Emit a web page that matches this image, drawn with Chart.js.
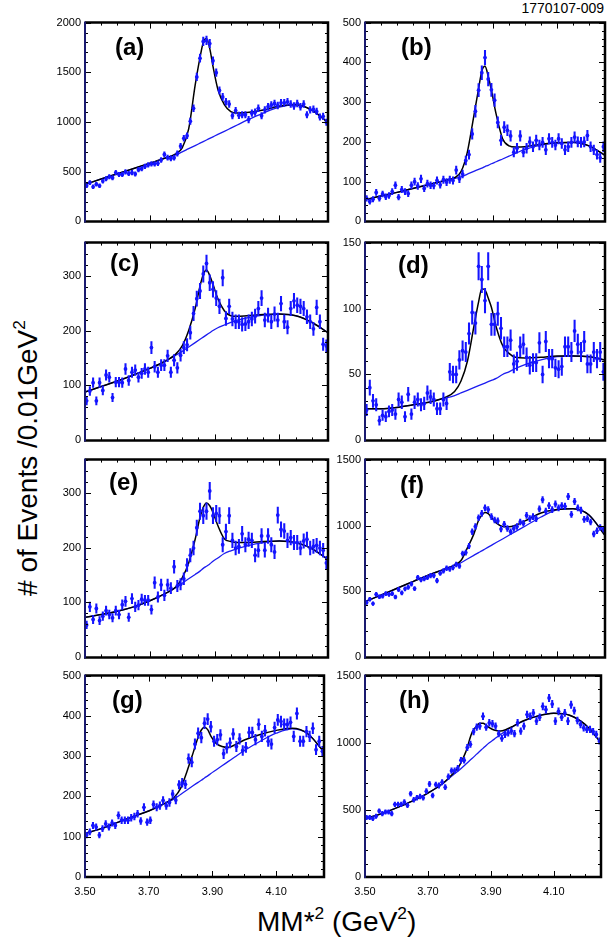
<!DOCTYPE html>
<html>
<head>
<meta charset="utf-8">
<title>MM*2 spectra</title>
<script src="https://cdn.jsdelivr.net/npm/chart.js@4.4.0/dist/chart.umd.min.js"></script>
<style>
  html, body { margin: 0; padding: 0; background: #fff; }
  body { width: 609px; height: 949px; position: relative; overflow: hidden;
         font-family: "Liberation Sans", Arial, Helvetica, sans-serif; color: #000; }
  canvas { position: absolute; }
  .tag { position: absolute; font-weight: bold; font-size: 24px; line-height: 24px; white-space: nowrap; }
  #code { position: absolute; right: 5px; top: 1px; font-size: 14px; line-height: 14px; }
  #ytitle { position: absolute; width: 420px; left: -182px; top: 442px; height: 32px;
            text-align: center; font-size: 28px; line-height: 32px; white-space: nowrap;
            transform: rotate(-90deg); }
  #xtitle { position: absolute; left: 257px; top: 906px; font-size: 28px; line-height: 32px; white-space: nowrap; }
  sup { font-size: 62%; line-height: 0; position: relative; top: -2px; }
</style>
</head>
<body>
<div id="code">1770107-009</div>
<div id="ytitle"># of Events /0.01GeV<sup>2</sup></div>
<div id="xtitle">MM*<sup>2</sup> (GeV<sup>2</sup>)</div>

<script>
// counts per 0.01 GeV^2 bin, bins from 3.50 to 4.25
const dataA = [358,390,348,374,358,406,429,449,439,491,
  472,472,498,481,491,478,520,530,553,569,
  579,579,585,618,673,641,634,641,683,758,
  836,862,1008,1138,1453,1642,1811,1821,1789,1616,
  1496,1317,1252,1203,1180,1063,1115,1067,1073,1073,
  1024,1089,1099,1138,1063,1122,1154,1171,1187,1167,
  1193,1193,1203,1180,1161,1187,1154,1180,1073,1122,
  1128,1106,1050,1057,998];
const dataB = [58,50,56,73,58,69,62,65,75,91,
  61,80,75,70,91,100,89,107,83,95,
  91,90,103,92,105,99,105,103,129,107,
  119,153,168,220,277,330,374,412,358,331,
  305,249,204,237,229,215,174,184,215,174,
  184,200,188,204,192,199,180,208,199,192,
  208,196,180,188,199,212,200,199,200,216,
  188,180,168,160,188];
const dataC = [72,90,105,72,105,91,119,115,78,106,
  106,105,130,109,124,128,115,122,130,124,
  169,134,124,137,137,154,124,146,132,155,
  169,174,196,231,258,272,303,322,287,275,
  259,244,296,222,244,221,216,216,211,212,
  216,221,226,240,259,219,228,216,230,219,
  249,216,206,240,254,246,244,240,225,216,
  203,242,216,175,172];
const dataD = [23,40,30,27,15,19,18,22,23,20,
  31,29,18,35,20,29,31,27,28,36,
  33,31,24,24,31,28,52,50,50,61,
  68,67,81,97,89,132,122,106,132,88,
  88,96,85,71,71,76,58,60,71,73,
  63,57,59,59,74,50,75,62,62,55,
  54,56,71,71,67,83,73,67,75,58,
  58,67,62,67,52];
const dataE = [59,92,69,89,67,75,85,78,72,85,
  78,96,102,73,107,92,95,106,104,104,
  87,136,110,132,113,132,126,165,130,133,
  143,168,186,199,236,266,258,266,303,258,
  262,258,205,229,258,213,199,202,225,205,
  215,213,186,195,221,195,221,205,192,259,
  233,230,213,218,209,209,199,212,215,199,
  202,204,199,195,172];
const dataF = [416,441,408,478,460,465,483,478,483,458,
  515,490,520,532,557,522,606,589,597,606,
  621,621,582,639,656,676,671,681,705,693,
  787,795,844,953,993,1059,1092,1134,1121,1067,
  1042,1035,973,1010,978,953,978,993,1027,1017,
  1077,1052,1067,1052,1126,1196,1109,1151,1121,1163,
  1134,1151,1146,1220,1084,1183,1134,1116,1047,1052,
  1027,936,960,985,973];
const dataG = [104,112,128,124,104,120,132,124,134,128,
  153,141,141,141,147,150,157,139,173,136,
  141,180,173,177,190,177,185,206,191,229,
  234,230,294,285,330,357,346,382,392,373,
  337,341,353,306,320,333,355,324,343,314,
  322,359,359,341,379,349,363,337,330,371,
  390,386,379,379,384,349,406,337,337,361,
  349,369,316,337,312];
const dataH = [443,443,435,452,492,472,484,484,472,541,
  541,541,558,534,620,575,590,600,590,639,
  693,607,688,681,706,669,747,792,792,811,
  870,870,964,988,1082,1116,1124,1197,1116,1148,
  1141,1124,1067,1033,1062,1074,1087,1067,1148,1087,
  1124,1210,1197,1222,1161,1190,1271,1247,1333,1288,
  1161,1234,1190,1222,1161,1283,1239,1166,1136,1111,
  1099,1099,1082,1062,1013];

// fit curves (background in blue, total in black), sampled on curveX
const curveX = [3.50,3.55,3.60,3.65,3.70,3.75,3.78,3.80,3.82,3.84,3.855,3.865,3.875,
  3.885,3.895,3.91,3.93,3.95,3.97,4.00,4.05,4.10,4.15,4.20,4.25];
const bgA  = [372,427,480,532,585,638,670,700,732,763,787,803,819,835,851,875,906,938,970,1018,1090,1150,1172,1120,995];
const fitA = [372,427,480,532,585,640,680,740,930,1370,1650,1800,1840,1740,1560,1330,1175,1105,1090,1095,1120,1160,1174,1120,995];
const bgB  = [54,64,73,83,93,103,108,112,119,126,131,134,138,141,145,150,157,164,171,181,192,197,198,190,166];
const fitB = [54,64,73,83,93,103,110,125,175,265,334,378,390,365,330,269,208,190,187,188,194,198,199,190,166];
const bgC  = [88,98,108,119,131,145,155,162,170,178,184,188,192,196,200,205,210,215,219,223,228,230,227,215,196];
const fitC = [88,98,108,119,131,145,157,172,200,240,281,302,310,300,284,258,236,227,226,227,229,230,227,215,196];
const bgD  = [24,24,25,27,29,32,34,36,38,40,41.5,42.5,43.5,44.5,45.5,47,50,52,54.5,57.5,61,63.5,64,63.5,61];
const fitD = [24,24,25,27,29,32.5,37,45,60,86,105,115,114,108,101,86,72,66,63,62.5,63,64,64,63.5,61];
const bgE  = [73,78,84,92,103,117,127,135,143,151,157,162,166,170,175,181,189,194,198,203,209,212,209,198,178];
const fitE = [73,78,84,92,103,117,128,145,172,215,255,273,281,276,264,240,216,211,209,209,211,212,209,198,178];
const bgF  = [423,472,524,575,626,670,697,718,746,774,795,808,822,836,850,871,898,926,954,995,1065,1118,1128,1080,925];
const fitF = [423,472,524,575,626,671,702,735,830,935,1040,1078,1098,1090,1062,1020,993,990,1002,1035,1095,1122,1128,1080,925];
const bgG  = [108,120,135,150,164,182,194,205,216,227,235,240,246,251,257,265,276,287,298,314,337,357,368,355,310];
const fitG = [108,120,135,150,164,183,198,220,262,310,347,365,372,366,350,333,324,322,328,340,354,364,369,355,310];
const bgH  = [435,470,515,565,625,700,760,797,840,882,915,937,958,980,1000,1025,1060,1093,1120,1157,1200,1220,1205,1135,1000];
const fitH = [435,470,515,565,625,702,770,830,930,1075,1125,1145,1145,1130,1112,1095,1087,1100,1122,1160,1200,1220,1205,1135,1000];

const binCentres = dataA.map((_, i) => +(3.505 + 0.01 * i).toFixed(3));
const xTickLabels = ['3.50', '3.70', '3.90', '4.10'];

const panels = [
  { tag: '(a)', counts: dataA, bg: bgA, fit: fitA, yMax: 2000, yMajor: 500, yMinor: 100, errK: 1.0 },
  { tag: '(b)', counts: dataB, bg: bgB, fit: fitB, yMax: 500,  yMajor: 100, yMinor: 20,  errK: 0.9 },
  { tag: '(c)', counts: dataC, bg: bgC, fit: fitC, yMax: 360,  yMajor: 100, yMinor: 20,  errK: 0.85 },
  { tag: '(d)', counts: dataD, bg: bgD, fit: fitD, yMax: 150,  yMajor: 50,  yMinor: 10,  errK: 0.9 },
  { tag: '(e)', counts: dataE, bg: bgE, fit: fitE, yMax: 360,  yMajor: 100, yMinor: 20,  errK: 0.9 },
  { tag: '(f)', counts: dataF, bg: bgF, fit: fitF, yMax: 1500, yMajor: 500, yMinor: 100, errK: 0.7 },
  { tag: '(g)', counts: dataG, bg: bgG, fit: fitG, yMax: 500,  yMajor: 100, yMinor: 20,  errK: 0.7 },
  { tag: '(h)', counts: dataH, bg: bgH, fit: fitH, yMax: 1500, yMajor: 500, yMinor: 100, errK: 0.75 }
];

// page layout of the plot boxes
const colLeft = [85, 365], colRight = [328, 608];
const rowTop = [20, 240, 457, 673], rowBottom = [225, 444, 661, 877];
const tagPos = [[115, 35], [401, 35], [110, 251], [398, 253], [109, 470], [400, 473], [112, 688], [399, 688]];

const BLUE = '#1414ff';
const LINE_BLUE = '#1c1cf0';

Chart.defaults.font.family = '"Liberation Sans", Arial, Helvetica, sans-serif';
Chart.defaults.font.size = 11;
Chart.defaults.color = '#000';

const isMajorX = v => xTickLabels.includes(v.toFixed(2));
const isMajor = (v, step) => Math.abs(v / step - Math.round(v / step)) < 1e-6;

// box frame with inward ticks on all four sides
const framePlugin = {
  id: 'frame',
  afterDraw(chart, args, opts) {
    const { ctx, chartArea: a } = chart;
    const xs = chart.scales.x, ys = chart.scales.y;
    ctx.save();
    ctx.strokeStyle = '#000';
    ctx.lineWidth = 1;
    ctx.beginPath();
    xs.ticks.forEach(t => {
      const px = Math.round(xs.getPixelForValue(t.value)) + 0.5;
      const len = isMajorX(t.value) ? 6 : 3;
      ctx.moveTo(px, a.bottom); ctx.lineTo(px, a.bottom - len);
      ctx.moveTo(px, a.top); ctx.lineTo(px, a.top + len);
    });
    ys.ticks.forEach(t => {
      const py = Math.round(ys.getPixelForValue(t.value)) + 0.5;
      const len = isMajor(t.value, opts.yMajor) ? 6 : 3;
      ctx.moveTo(a.left, py); ctx.lineTo(a.left + len, py);
      ctx.moveTo(a.right, py); ctx.lineTo(a.right - len, py);
    });
    ctx.stroke();
    ctx.lineWidth = 2.5;
    ctx.beginPath();
    ctx.moveTo(a.left, a.top); ctx.lineTo(a.right, a.top);
    ctx.lineTo(a.right, a.bottom); ctx.lineTo(a.left - 1, a.bottom);
    ctx.stroke();
    ctx.strokeStyle = '#1a1a70';
    ctx.lineWidth = 2;
    ctx.beginPath();
    ctx.moveTo(a.left, a.top - 1); ctx.lineTo(a.left, a.bottom + 1);
    ctx.stroke();
    ctx.restore();
  }
};

panels.forEach((p, k) => {
  const col = k % 2, row = Math.floor(k / 2);
  const last = row === 3;
  const padL = 40, padT = 8, padR = col ? 1 : 4, xh = last ? 24 : 7;
  const w = colRight[col] - colLeft[col] + padL + padR;
  const h = rowBottom[row] - rowTop[row] + padT + xh;

  const cv = document.createElement('canvas');
  cv.width = w; cv.height = h;
  cv.style.left = (colLeft[col] - padL) + 'px';
  cv.style.top = (rowTop[row] - padT) + 'px';
  document.body.appendChild(cv);

  const tag = document.createElement('div');
  tag.className = 'tag';
  tag.textContent = p.tag;
  tag.style.left = tagPos[k][0] + 'px';
  tag.style.top = tagPos[k][1] + 'px';
  document.body.appendChild(tag);

  new Chart(cv, {
    type: 'scatter',
    data: {
      datasets: [
        {
          type: 'scatter',
          data: p.counts.map((v, i) => ({ x: binCentres[i], y: v })),
          backgroundColor: BLUE, borderWidth: 0, pointRadius: 1.9,
          order: 0
        },
        {
          type: 'bar',
          data: p.counts.map((v, i) => ({ x: binCentres[i], y: [v - p.errK * Math.sqrt(v), v + p.errK * Math.sqrt(v)] })),
          backgroundColor: BLUE, borderWidth: 0, barThickness: 1.4, borderSkipped: false,
          order: 1
        },
        {
          type: 'line',
          data: curveX.map((x, i) => ({ x, y: p.fit[i] })),
          borderColor: '#000', borderWidth: 1.5, pointRadius: 0, fill: false,
          cubicInterpolationMode: 'monotone',
          order: 2
        },
        {
          type: 'line',
          data: curveX.map((x, i) => ({ x, y: p.bg[i] })),
          borderColor: LINE_BLUE, borderWidth: 1.3, pointRadius: 0, fill: false,
          cubicInterpolationMode: 'monotone',
          order: 3
        }
      ]
    },
    options: {
      responsive: false,
      animation: false,
      events: [],
      layout: { padding: { top: padT, right: padR, left: 0, bottom: 0 } },
      plugins: { legend: { display: false }, tooltip: { enabled: false }, frame: { yMajor: p.yMajor } },
      scales: {
        x: {
          type: 'linear', min: 3.5, max: 4.25, offset: false,
          grid: { display: false, drawTicks: false }, border: { display: false },
          ticks: {
            display: last, stepSize: 0.05, autoSkip: false, maxRotation: 0, padding: 8,
            maxTicksLimit: 100,
            callback: v => isMajorX(v) ? v.toFixed(2) : ''
          },
          afterFit: s => { s.height = xh; }
        },
        y: {
          type: 'linear', min: 0, max: p.yMax,
          grid: { display: false, drawTicks: false }, border: { display: false },
          ticks: {
            stepSize: p.yMinor, autoSkip: false, padding: 4, maxTicksLimit: 200,
            callback: v => isMajor(v, p.yMajor) ? String(v) : ''
          },
          afterFit: s => { s.width = padL; }
        }
      }
    },
    plugins: [framePlugin]
  });
});
</script>
</body>
</html>
